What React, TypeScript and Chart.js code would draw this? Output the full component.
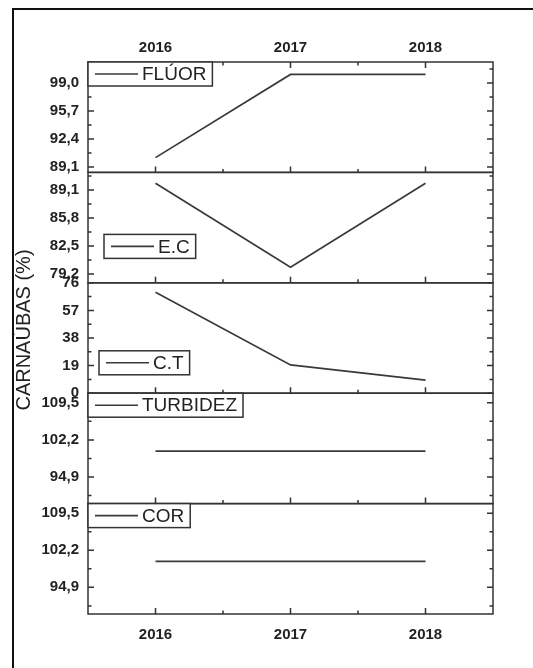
import React, { useEffect, useRef } from 'react';
import { Chart, registerables } from 'chart.js';

Chart.register(...registerables);

// ---- data ----
const years = ['2016', '2017', '2018'];
const fluor = [90.2, 100.0, 100.0];
const ec = [89.9, 80.0, 89.9];
const ct = [69.5, 19.5, 9.0];
const turbidez = [100.0, 100.0, 100.0];
const cor = [100.0, 100.0, 100.0];

const fluorTicks = [89.1, 92.4, 95.7, 99.0];
const ecTicks = [79.2, 82.5, 85.8, 89.1];
const ctTicks = [0, 19, 38, 57, 76];
const turbTicks = [94.9, 102.2, 109.5];
const corTicks = [94.9, 102.2, 109.5];

const seriesNames = ['FLÚOR', 'E.C', 'C.T', 'TURBIDEZ', 'COR'];
const yTitle = 'CARNAÚBAS (%)';

const panels = [
  { id: 'yF', name: seriesNames[0], data: fluor, ticks: fluorTicks, min: 88.46, max: 101.47, dec: 1, lx: 0, ly: 0 },
  { id: 'yE', name: seriesNames[1], data: ec, ticks: ecTicks, min: 78.17, max: 91.17, dec: 1, lx: 16, ly: 62 },
  { id: 'yC', name: seriesNames[2], data: ct, ticks: ctTicks, min: 0, max: 76, dec: 0, lx: 11, ly: 68 },
  { id: 'yT', name: seriesNames[3], data: turbidez, ticks: turbTicks, min: 89.65, max: 111.4, dec: 1, lx: 0, ly: 0 },
  { id: 'yCor', name: seriesNames[4], data: cor, ticks: corTicks, min: 89.65, max: 111.4, dec: 1, lx: 0, ly: 0 },
];

const FONT = '"Liberation Sans", Arial, sans-serif';
const TEXT = '#222';
const AXIS = '#333';
const LINE = '#3a3a3a';

const framePlugin = {
  id: 'frames',
  afterDraw(chart: any) {
    const ctx = chart.ctx;
    const { left, right } = chart.chartArea;
    const xs = chart.scales.x;
    const xMaj = [0, 1, 2].map((i) => xs.getPixelForValue(i));
    const xMin = [(xMaj[0] + xMaj[1]) / 2, (xMaj[1] + xMaj[2]) / 2];
    ctx.save();
    ctx.strokeStyle = AXIS;
    ctx.lineWidth = 1.5;
    panels.forEach((p, i) => {
      const s = chart.scales[p.id];
      const top = s.top;
      const bottom = s.bottom;
      ctx.strokeRect(left, top, right - left, bottom - top);
      const step = p.ticks[1] - p.ticks[0];
      const minors: number[] = [];
      minors.push(p.ticks[0] - step / 2);
      p.ticks.forEach((v) => minors.push(v + step / 2));
      ctx.beginPath();
      p.ticks.forEach((v) => {
        const y = s.getPixelForValue(v);
        if (y < top - 0.5 || y > bottom + 0.5) return;
        ctx.moveTo(left, y); ctx.lineTo(left + 6, y);
        ctx.moveTo(right, y); ctx.lineTo(right - 6, y);
      });
      minors.forEach((v) => {
        if (v < p.min || v > p.max) return;
        const y = s.getPixelForValue(v);
        ctx.moveTo(left, y); ctx.lineTo(left + 3.5, y);
        ctx.moveTo(right, y); ctx.lineTo(right - 3.5, y);
      });
      xMaj.forEach((x) => { ctx.moveTo(x, bottom); ctx.lineTo(x, bottom - 6); });
      xMin.forEach((x) => { ctx.moveTo(x, bottom); ctx.lineTo(x, bottom - 3.5); });
      if (i === 0) {
        xMaj.forEach((x) => { ctx.moveTo(x, top); ctx.lineTo(x, top + 6); });
        xMin.forEach((x) => { ctx.moveTo(x, top); ctx.lineTo(x, top + 3.5); });
      }
      ctx.stroke();
    });

    // legend boxes
    ctx.font = '19px ' + FONT;
    ctx.textBaseline = 'middle';
    ctx.textAlign = 'left';
    panels.forEach((p) => {
      const s = chart.scales[p.id];
      const bx = left + p.lx;
      const by = s.top + p.ly;
      const h = 24;
      const tw = ctx.measureText(p.name).width;
      const w = 7 + 43 + 5 + tw + 5;
      ctx.fillStyle = '#fff';
      ctx.fillRect(bx, by, w, h);
      ctx.strokeStyle = AXIS;
      ctx.lineWidth = 1.5;
      ctx.strokeRect(bx, by, w, h);
      ctx.strokeStyle = LINE;
      ctx.lineWidth = 1.6;
      ctx.beginPath();
      ctx.moveTo(bx + 7, by + h / 2);
      ctx.lineTo(bx + 50, by + h / 2);
      ctx.stroke();
      ctx.fillStyle = TEXT;
      ctx.fillText(p.name, bx + 54, by + h / 2 + 1);
    });

    // y title
    ctx.save();
    ctx.translate(24, 330);
    ctx.rotate(-Math.PI / 2);
    ctx.font = '20px ' + FONT;
    ctx.textAlign = 'center';
    ctx.textBaseline = 'middle';
    ctx.fillStyle = TEXT;
    ctx.fillText(yTitle, 0, 0);
    ctx.restore();
    ctx.restore();
  },
};

export default function App() {
  const ref = useRef<HTMLCanvasElement | null>(null);
  useEffect(() => {
    if (!ref.current) return;
    const tickFont = { family: FONT, size: 15, weight: 'bold' as const };
    const noGrid = { display: false, drawTicks: false, tickLength: 0 };
    const scales: any = {
      x: {
        type: 'category',
        position: 'bottom',
        offset: true,
        grid: noGrid,
        border: { display: false },
        ticks: { font: tickFont, color: TEXT, padding: 12, maxRotation: 0 },
        afterFit: (s: any) => { s.height = 54; },
      },
      xTop: {
        type: 'category',
        position: 'top',
        labels: years,
        offset: true,
        grid: noGrid,
        border: { display: false },
        ticks: { font: tickFont, color: TEXT, padding: 5, maxRotation: 0 },
        afterFit: (s: any) => { s.height = 62; },
      },
    };
    panels.forEach((p, i) => {
      scales[p.id] = {
        type: 'linear',
        position: 'left',
        stack: 'panels',
        stackWeight: 1,
        weight: 5 - i,
        min: p.min,
        max: p.max,
        grid: noGrid,
        border: { display: false },
        afterBuildTicks: (s: any) => { s.ticks = p.ticks.map((v) => ({ value: v })); },
        ticks: {
          font: tickFont,
          color: TEXT,
          padding: 9,
          autoSkip: false,
          callback: (v: any) => Number(v).toFixed(p.dec).replace('.', ','),
        },
        afterFit: (s: any) => { s.width = 88; },
      };
    });
    const chart = new Chart(ref.current, {
      type: 'line',
      data: {
        labels: years,
        datasets: panels.map((p) => ({
          label: p.name,
          data: p.data,
          yAxisID: p.id,
          xAxisID: 'x',
          borderColor: LINE,
          borderWidth: 1.7,
          pointRadius: 0,
          tension: 0,
          fill: false,
        })),
      },
      options: {
        responsive: false,
        animation: false,
        devicePixelRatio: 1,
        layout: { padding: { left: 0, right: 40, top: 0, bottom: 0 } },
        plugins: { legend: { display: false }, tooltip: { enabled: false }, title: { display: false } },
        scales,
      },
      plugins: [framePlugin],
    } as any);
    return () => chart.destroy();
  }, []);

  return (
    <div style={{ position: 'fixed', left: 0, top: 0, width: 533, height: 668, background: '#fff', overflow: 'hidden' }}>
      <canvas ref={ref} width={533} height={668} style={{ position: 'absolute', left: 0, top: 0, width: 533, height: 668 }} />
      <div style={{ position: 'absolute', left: 12, top: 8, right: -10, bottom: -10, borderTop: '2px solid #111', borderLeft: '2px solid #111' }} />
    </div>
  );
}
